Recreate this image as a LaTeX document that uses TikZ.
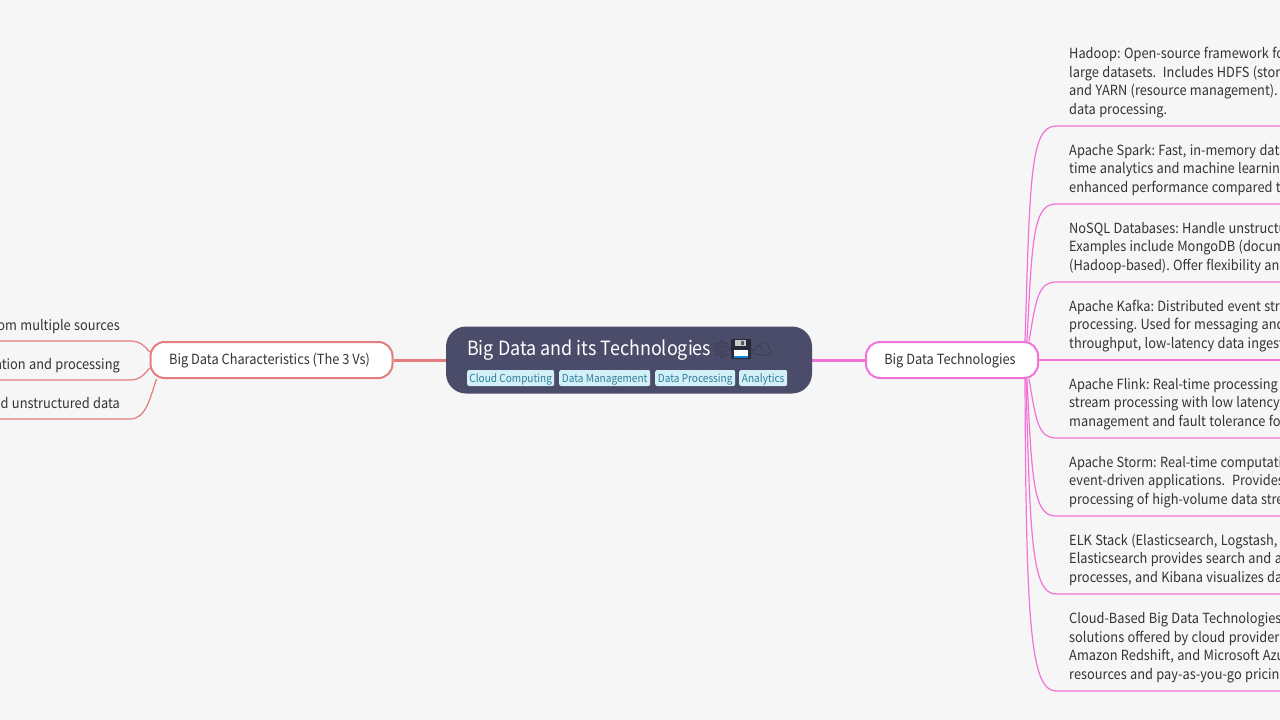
\documentclass[tikz,border=0pt]{standalone}
\usepackage{fontspec}
\usetikzlibrary{backgrounds}
\setmainfont[FakeStretch=0.915]{Noto Sans CJK SC}
\newfontfamily\emojifont{Noto Emoji}
\definecolor{pagebg}{HTML}{F6F6F6}
\definecolor{rootbg}{HTML}{4A4C6A}
\definecolor{tagbg}{HTML}{D3F0F8}
\definecolor{tagtext}{HTML}{2E7F98}
\definecolor{redline}{HTML}{E27D7D}
\definecolor{pinkline}{HTML}{F272D8}
\definecolor{bodytext}{HTML}{333333}
\tikzset{
	branch/.style={draw, line width=2pt, fill=white, rounded corners=14pt, text=bodytext, font=\fontsize{14}{18}\selectfont, minimum height=36pt, inner xsep=0pt, inner ysep=0pt, text height=12pt, text depth=3pt, execute at end node={\hspace{4pt}}},
	tag/.style={fill=tagbg, rounded corners=2pt, text=tagtext, font=\fontsize{11}{13}\selectfont, minimum height=16pt, inner xsep=0pt, inner ysep=0pt, anchor=west, text height=12pt, text depth=2.5pt},
	item/.style={text=bodytext, font=\fontsize{14}{18.7}\selectfont, text width=400pt, inner xsep=13pt, inner ysep=5.5pt, align=left, anchor=south west, execute at begin node={\spaceskip=0.24em\xspaceskip=0.24em}, execute at end node={\strut}},
	leftitem/.style={text=bodytext, font=\fontsize{14}{18.7}\selectfont, text width=300pt, inner xsep=10pt, inner ysep=5pt, align=right, anchor=south east, execute at begin node={\spaceskip=0.24em\xspaceskip=0.24em}, execute at end node={\strut}},
	emoji/.style={inner sep=0pt, text=rootbg!75!black, font=\emojifont\fontsize{17}{20}\selectfont},
	techline/.style={pinkline, line width=1.2pt},
	charline/.style={redline, line width=1.2pt},
}
\begin{document}
\begin{tikzpicture}[x=1pt, y=-1pt]
		\useasboundingbox (0, 0) rectangle (1280, 720);
		\clip (0, 0) rectangle (1280, 720);

		%%%%% nodes %%%%%
		\node[fill=rootbg, rounded corners=20pt, minimum width=366pt, minimum height=67pt] (root) at (629, 360) {};
		\node[branch, draw=redline, minimum width=242pt] (chars) at (271.5, 360) {Big Data Characteristics (The 3 Vs)};
		\node[branch, draw=pinkline, minimum width=172pt] (tech) at (952, 360) {Big Data Technologies};

		\node[anchor=west, text=white, inner sep=0pt, font=\fontsize{19.6}{24}\selectfont] (title) at (467, 350) {Big Data and its Technologies};
		\node[emoji] (gear) at (722, 350) {⚙};
		\node[emoji] (cloud) at (762, 350) {☁};

		% floppy
		\node[fill=black!45!rootbg, rounded corners=1pt, minimum size=20pt, inner sep=0pt] (disk) at (741, 349) {};
		\fill[white] (734, 350) rectangle (748, 356);
		\fill[cyan!70!blue] (734, 356) rectangle (748, 358);
		\fill[black!20] (735, 340) rectangle (746, 346);
		\fill[black!65] (741, 341) rectangle (744, 345);

		\node[tag, minimum width=87pt] (cloudtag) at (467, 378) {Cloud Computing};
		\node[tag, minimum width=91pt] (datatag) at (559, 378) {Data Management};
		\node[tag, minimum width=80pt] (proctag) at (655, 378) {Data Processing};
		\node[tag, minimum width=48pt] (analytag) at (739, 378) {Analytics};

		\node[leftitem] (sources) at (130, 341) {om multiple sources};
		\node[leftitem] (speed) at (130, 380) {ation and processing};
		\node[leftitem] (variety) at (130, 419) {and unstructured data};

		\node[item] (hadoop) at (1056, 126) {Hadoop: Open-source framework fo\\large datasets.\ \ Includes HDFS (stora\\and YARN (resource management).\\data processing.};
		\node[item] (spark) at (1056, 204) {Apache Spark: Fast, in-memory data\\time analytics and machine learning\\enhanced performance compared t};
		\node[item] (nosql) at (1056, 282) {NoSQL Databases: Handle unstructu\\Examples include MongoDB (docum\\(Hadoop-based). Offer flexibility and};
		\node[item] (kafka) at (1056, 360) {Apache Kafka: Distributed event stre\\processing. Used for messaging and\\throughput, low-latency data ingest};
		\node[item] (flink) at (1056, 438) {Apache Flink: Real-time processing\\stream processing with low latency\\management and fault tolerance fo};
		\node[item] (storm) at (1056, 516) {Apache Storm: Real-time computati\\event-driven applications.\ \ Provides\\processing of high-volume data stre};
		\node[item] (elk) at (1056, 594) {ELK Stack (Elasticsearch, Logstash,\\Elasticsearch provides search and a\\processes, and Kibana visualizes da};
		\node[item] (cloudbig) at (1056, 691) {Cloud-Based Big Data Technologies\\solutions offered by cloud providers\\Amazon Redshift, and Microsoft Azu\\resources and pay-as-you-go pricing};

		%%%%% connectors %%%%%
		\begin{pgfonlayer}{background}
		\fill[pagebg] (0, 0) rectangle (1280, 720);
		\draw[redline, line width=3pt] (root.west) -- (chars.east);
		\draw[pinkline, line width=3pt] (root.east) -- (tech.west);

		\draw[charline] ([yshift=8]chars.west) .. controls (145, 346) and (140, 341) .. (sources.south east) -- (sources.south west);
		\draw[charline] ([yshift=-8]chars.west) .. controls (145, 374) and (140, 380) .. (speed.south east) -- (speed.south west);
		\draw[charline] ([xshift=7]chars.south west) .. controls (150, 398) and (146, 419) .. (variety.south east) -- (variety.south west);

		\draw[techline] ([xshift=-14]tech.north east) .. controls (1030, 180) and (1030, 126) .. (hadoop.south west) -- (hadoop.south east);
		\draw[techline] ([xshift=-12]tech.north east) .. controls (1032, 235) and (1034, 204) .. (spark.south west) -- (spark.south east);
		\draw[techline] ([xshift=-10]tech.north east) .. controls (1036, 300) and (1038, 282) .. (nosql.south west) -- (nosql.south east);
		\draw[techline] (tech.east) -- (kafka.south west) -- (kafka.south east);
		\draw[techline] ([xshift=-10]tech.south east) .. controls (1036, 420) and (1038, 438) .. (flink.south west) -- (flink.south east);
		\draw[techline] ([xshift=-12]tech.south east) .. controls (1032, 485) and (1034, 516) .. (storm.south west) -- (storm.south east);
		\draw[techline] ([xshift=-13]tech.south east) .. controls (1030, 540) and (1032, 594) .. (elk.south west) -- (elk.south east);
		\draw[techline] ([xshift=-14]tech.south east) .. controls (1026, 620) and (1030, 691) .. (cloudbig.south west) -- (cloudbig.south east);
		\end{pgfonlayer}
	\end{tikzpicture}
\end{document}
